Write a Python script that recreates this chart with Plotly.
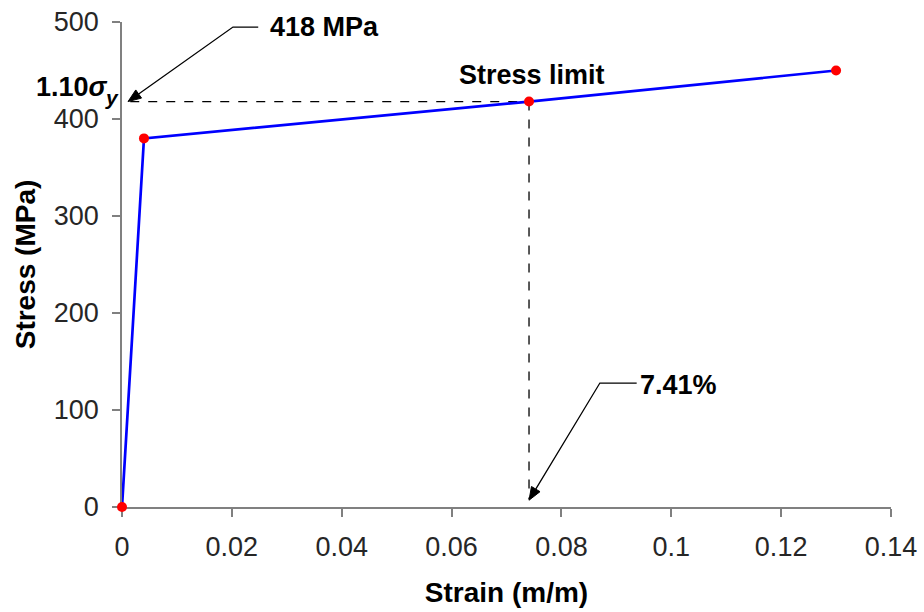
import math
import plotly.graph_objects as go

# Data
strain = [0.0, 0.004, 0.0741, 0.13]
stress = [0, 380, 418, 450]
limit_strain = 0.0741
limit_stress = 418
x_ticks = [0, 0.02, 0.04, 0.06, 0.08, 0.1, 0.12, 0.14]
x_tick_labels = ["0", "0.02", "0.04", "0.06", "0.08", "0.1", "0.12", "0.14"]
y_ticks = [0, 100, 200, 300, 400, 500]

FONT = "Liberation Sans, Arial, sans-serif"
FS = 27

W, H = 924, 612
ML, MR, MT, MB = 122, 33, 22, 105
XR = (0, 0.14)
YR = (0, 500)
PW, PH = W - ML - MR, H - MT - MB
sx = PW / (XR[1] - XR[0])   # px per x unit
sy = PH / (YR[1] - YR[0])   # px per y unit

fig = go.Figure()
fig.add_trace(go.Scatter(
    x=strain, y=stress, mode="lines+markers",
    line=dict(color="#0000FF", width=2.7),
    marker=dict(color="#FF0000", size=10),
    cliponaxis=False, showlegend=False,
))

# dashed guide lines
fig.add_shape(type="line", x0=0.0015, x1=limit_strain, y0=limit_stress, y1=limit_stress,
              line=dict(color="black", width=1.3, dash="dash"), layer="below")
fig.add_shape(type="line", x0=limit_strain, x1=limit_strain, y0=limit_stress, y1=8,
              line=dict(color="black", width=1.3, dash="dash"), layer="below")


def leader(x_text, x_knee, y_knee, x_tip, y_tip, head_len=13, head_half=5):
    # direction from knee to tip in pixel space (y up)
    dx = (x_tip - x_knee) * sx
    dy = (y_tip - y_knee) * sy
    L = math.hypot(dx, dy)
    ux, uy = dx / L, dy / L
    bx = x_tip - ux * head_len / sx
    by = y_tip - uy * head_len / sy
    px, py = -uy, ux
    path = f"M {x_text} {y_knee} L {x_knee} {y_knee} L {bx} {by}"
    fig.add_shape(type="path", path=path, xref="x", yref="y",
                  line=dict(color="black", width=1.3))
    tri = (f"M {x_tip} {y_tip} "
           f"L {bx + px * head_half / sx} {by + py * head_half / sy} "
           f"L {bx - px * head_half / sx} {by - py * head_half / sy} Z")
    fig.add_shape(type="path", path=tri, xref="x", yref="y",
                  line=dict(color="black", width=1), fillcolor="black")


leader(0.0248, 0.0202, 494.8, 0.0011, limit_stress)
leader(0.0937, 0.0870, 127.8, limit_strain, 7)

# texts
fig.add_annotation(x=0.0266, y=494.8, xref="x", yref="y", text="<b>418 MPa</b>",
                   showarrow=False, xanchor="left", yanchor="middle",
                   font=dict(family=FONT, size=FS, color="black"))
fig.add_annotation(x=0.0940, y=126, xref="x", yref="y", text="<b>7.41%</b>",
                   showarrow=False, xanchor="left", yanchor="middle",
                   font=dict(family=FONT, size=FS, color="black"))
fig.add_annotation(x=limit_strain + 0.0005, y=445, xref="x", yref="y", text="<b>Stress limit</b>",
                   showarrow=False, xanchor="center", yanchor="middle",
                   font=dict(family=FONT, size=FS, color="black"))
fig.add_annotation(x=-0.0156, y=433, xref="paper", yref="y",
                   text="<b>1.10<i>σ</i></b>",
                   showarrow=False, xanchor="right", yanchor="middle",
                   font=dict(family=FONT, size=FS, color="black"))
fig.add_annotation(x=-0.0245, y=422.5, xref="paper", yref="y",
                   text="<b><i>y</i></b>",
                   showarrow=False, xanchor="left", yanchor="middle",
                   font=dict(family=FONT, size=21, color="black"))

fig.update_layout(
    width=W, height=H,
    margin=dict(l=ML, r=MR, t=MT, b=MB, autoexpand=False),
    plot_bgcolor="white", paper_bgcolor="white",
    font=dict(family=FONT, size=FS, color="#262626"),
    xaxis=dict(range=list(XR), tickvals=x_ticks, ticktext=x_tick_labels,
               showgrid=False, zeroline=False, showline=True, linecolor="#808080",
               linewidth=1.5, ticks="outside", ticklen=8, tickcolor="#808080",
               tickwidth=1.5, automargin=False, layer="below traces",
               ticklabelstandoff=7,
               title=dict(text="<b>Strain (m/m)</b>", font=dict(family=FONT, size=28, color="black"),
                          standoff=21)),
    yaxis=dict(range=list(YR), tickvals=y_ticks,
               showgrid=False, zeroline=False, showline=True, linecolor="#808080",
               linewidth=1.5, ticks="outside", ticklen=8, tickcolor="#808080",
               tickwidth=1.5, automargin=False, layer="below traces",
               ticklabelstandoff=8,
               title=dict(text="<b>Stress (MPa)</b>", font=dict(family=FONT, size=28, color="black"),
                          standoff=10)),
)

fig.write_html("out.html")
